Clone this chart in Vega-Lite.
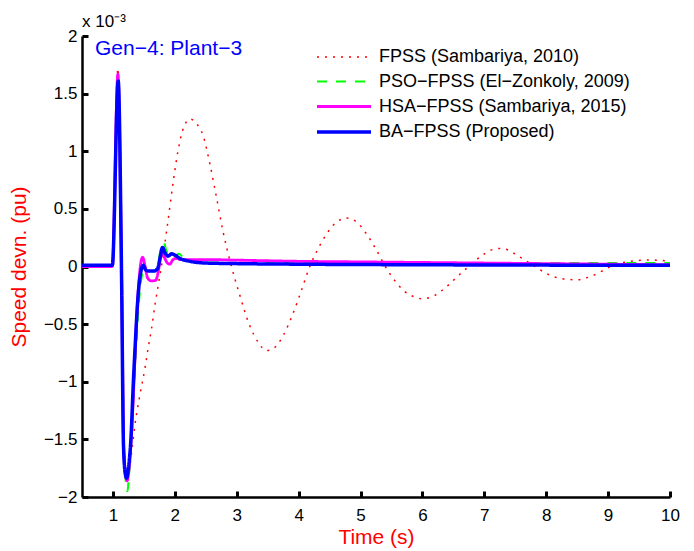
{
  "$schema": "https://vega.github.io/schema/vega-lite/v6.json",
  "width": 588,
  "height": 461,
  "autosize": "none",
  "padding": {"left": 82, "top": 36, "right": 24, "bottom": 54},
  "background": "white",
  "title": {"text": "x 10⁻³", "anchor": "start", "frame": "group", "fontSize": 17, "font": "Liberation Sans", "fontWeight": "normal", "color": "black", "offset": -4},
  "config": {
    "view": {"stroke": null},
    "font": "Liberation Sans",
    "axis": {"grid": false, "domainColor": "black", "domainWidth": 2.5, "labelFont": "Liberation Sans", "labelFontSize": 17, "labelColor": "black", "titleFont": "Liberation Sans", "titleFontSize": 21, "titleFontWeight": "normal", "titleColor": "#ff0000", "labelOverlap": false, "labelFlush": false},
    "legend": {"orient": "none", "legendX": 250, "legendY": 10, "padding": 0, "labelFont": "Liberation Sans", "labelFontSize": 18, "labelColor": "black", "labelLimit": 0, "rowPadding": 4, "symbolType": "M-2.7,0H2.7", "symbolSize": 400, "labelOffset": 23}
  },
  "resolve": {"axis": {"x": "independent", "y": "independent"}},
  "data": {"values": [
    {"series": "FPSS (Sambariya, 2010)", "t": 0.5, "v": 0},
    {"series": "FPSS (Sambariya, 2010)", "t": 0.99, "v": 0},
    {"series": "FPSS (Sambariya, 2010)", "t": 1.08, "v": 1.72},
    {"series": "FPSS (Sambariya, 2010)", "t": 1.14, "v": -0.1},
    {"series": "FPSS (Sambariya, 2010)", "t": 1.18, "v": -1.55},
    {"series": "FPSS (Sambariya, 2010)", "t": 1.22, "v": -1.8},
    {"series": "FPSS (Sambariya, 2010)", "t": 1.25, "v": -1.8},
    {"series": "FPSS (Sambariya, 2010)", "t": 1.3, "v": -1.62},
    {"series": "FPSS (Sambariya, 2010)", "t": 1.356, "v": -1.37},
    {"series": "FPSS (Sambariya, 2010)", "t": 1.437, "v": -1.11},
    {"series": "FPSS (Sambariya, 2010)", "t": 1.518, "v": -0.88},
    {"series": "FPSS (Sambariya, 2010)", "t": 1.571, "v": -0.7},
    {"series": "FPSS (Sambariya, 2010)", "t": 1.626, "v": -0.53},
    {"series": "FPSS (Sambariya, 2010)", "t": 1.68, "v": -0.33},
    {"series": "FPSS (Sambariya, 2010)", "t": 1.72, "v": -0.2},
    {"series": "FPSS (Sambariya, 2010)", "t": 1.8, "v": 0.06},
    {"series": "FPSS (Sambariya, 2010)", "t": 1.87, "v": 0.32},
    {"series": "FPSS (Sambariya, 2010)", "t": 1.97, "v": 0.72},
    {"series": "FPSS (Sambariya, 2010)", "t": 2.05, "v": 1.0},
    {"series": "FPSS (Sambariya, 2010)", "t": 2.12, "v": 1.17},
    {"series": "FPSS (Sambariya, 2010)", "t": 2.18, "v": 1.25},
    {"series": "FPSS (Sambariya, 2010)", "t": 2.245, "v": 1.28},
    {"series": "FPSS (Sambariya, 2010)", "t": 2.35, "v": 1.24},
    {"series": "FPSS (Sambariya, 2010)", "t": 2.46, "v": 1.13},
    {"series": "FPSS (Sambariya, 2010)", "t": 2.57, "v": 0.88},
    {"series": "FPSS (Sambariya, 2010)", "t": 2.68, "v": 0.58},
    {"series": "FPSS (Sambariya, 2010)", "t": 2.78, "v": 0.3},
    {"series": "FPSS (Sambariya, 2010)", "t": 2.9, "v": 0.03},
    {"series": "FPSS (Sambariya, 2010)", "t": 3.05, "v": -0.25},
    {"series": "FPSS (Sambariya, 2010)", "t": 3.2, "v": -0.5},
    {"series": "FPSS (Sambariya, 2010)", "t": 3.35, "v": -0.66},
    {"series": "FPSS (Sambariya, 2010)", "t": 3.48, "v": -0.73},
    {"series": "FPSS (Sambariya, 2010)", "t": 3.62, "v": -0.7},
    {"series": "FPSS (Sambariya, 2010)", "t": 3.75, "v": -0.6},
    {"series": "FPSS (Sambariya, 2010)", "t": 3.9, "v": -0.42},
    {"series": "FPSS (Sambariya, 2010)", "t": 4.05, "v": -0.2},
    {"series": "FPSS (Sambariya, 2010)", "t": 4.18, "v": 0.0},
    {"series": "FPSS (Sambariya, 2010)", "t": 4.3, "v": 0.14},
    {"series": "FPSS (Sambariya, 2010)", "t": 4.45, "v": 0.28},
    {"series": "FPSS (Sambariya, 2010)", "t": 4.6, "v": 0.38},
    {"series": "FPSS (Sambariya, 2010)", "t": 4.78, "v": 0.42},
    {"series": "FPSS (Sambariya, 2010)", "t": 4.95, "v": 0.38},
    {"series": "FPSS (Sambariya, 2010)", "t": 5.1, "v": 0.28},
    {"series": "FPSS (Sambariya, 2010)", "t": 5.25, "v": 0.15},
    {"series": "FPSS (Sambariya, 2010)", "t": 5.4, "v": 0.0},
    {"series": "FPSS (Sambariya, 2010)", "t": 5.55, "v": -0.12},
    {"series": "FPSS (Sambariya, 2010)", "t": 5.7, "v": -0.21},
    {"series": "FPSS (Sambariya, 2010)", "t": 5.85, "v": -0.26},
    {"series": "FPSS (Sambariya, 2010)", "t": 6.01, "v": -0.28},
    {"series": "FPSS (Sambariya, 2010)", "t": 6.2, "v": -0.25},
    {"series": "FPSS (Sambariya, 2010)", "t": 6.4, "v": -0.17},
    {"series": "FPSS (Sambariya, 2010)", "t": 6.6, "v": -0.07},
    {"series": "FPSS (Sambariya, 2010)", "t": 6.77, "v": 0.01},
    {"series": "FPSS (Sambariya, 2010)", "t": 6.95, "v": 0.09},
    {"series": "FPSS (Sambariya, 2010)", "t": 7.1, "v": 0.14},
    {"series": "FPSS (Sambariya, 2010)", "t": 7.25, "v": 0.157},
    {"series": "FPSS (Sambariya, 2010)", "t": 7.4, "v": 0.14},
    {"series": "FPSS (Sambariya, 2010)", "t": 7.55, "v": 0.09},
    {"series": "FPSS (Sambariya, 2010)", "t": 7.79, "v": 0.01},
    {"series": "FPSS (Sambariya, 2010)", "t": 8.0, "v": -0.06},
    {"series": "FPSS (Sambariya, 2010)", "t": 8.2, "v": -0.1},
    {"series": "FPSS (Sambariya, 2010)", "t": 8.5, "v": -0.115},
    {"series": "FPSS (Sambariya, 2010)", "t": 8.7, "v": -0.09},
    {"series": "FPSS (Sambariya, 2010)", "t": 8.9, "v": -0.04},
    {"series": "FPSS (Sambariya, 2010)", "t": 9.08, "v": 0.01},
    {"series": "FPSS (Sambariya, 2010)", "t": 9.3, "v": 0.04},
    {"series": "FPSS (Sambariya, 2010)", "t": 9.5, "v": 0.053},
    {"series": "FPSS (Sambariya, 2010)", "t": 9.68, "v": 0.057},
    {"series": "FPSS (Sambariya, 2010)", "t": 9.85, "v": 0.053},
    {"series": "FPSS (Sambariya, 2010)", "t": 10, "v": 0.045},

    {"series": "PSO−FPSS (El−Zonkoly, 2009)", "t": 0.5, "v": 0.01},
    {"series": "PSO−FPSS (El−Zonkoly, 2009)", "t": 0.99, "v": 0.01},
    {"series": "PSO−FPSS (El−Zonkoly, 2009)", "t": 1.085, "v": 1.62},
    {"series": "PSO−FPSS (El−Zonkoly, 2009)", "t": 1.14, "v": -0.1},
    {"series": "PSO−FPSS (El−Zonkoly, 2009)", "t": 1.18, "v": -1.6},
    {"series": "PSO−FPSS (El−Zonkoly, 2009)", "t": 1.21, "v": -1.88},
    {"series": "PSO−FPSS (El−Zonkoly, 2009)", "t": 1.235, "v": -1.95},
    {"series": "PSO−FPSS (El−Zonkoly, 2009)", "t": 1.26, "v": -1.8},
    {"series": "PSO−FPSS (El−Zonkoly, 2009)", "t": 1.3, "v": -1.5},
    {"series": "PSO−FPSS (El−Zonkoly, 2009)", "t": 1.34, "v": -1.05},
    {"series": "PSO−FPSS (El−Zonkoly, 2009)", "t": 1.38, "v": -0.65},
    {"series": "PSO−FPSS (El−Zonkoly, 2009)", "t": 1.42, "v": -0.3},
    {"series": "PSO−FPSS (El−Zonkoly, 2009)", "t": 1.46, "v": -0.1},
    {"series": "PSO−FPSS (El−Zonkoly, 2009)", "t": 1.5, "v": -0.03},
    {"series": "PSO−FPSS (El−Zonkoly, 2009)", "t": 1.56, "v": -0.04},
    {"series": "PSO−FPSS (El−Zonkoly, 2009)", "t": 1.66, "v": -0.04},
    {"series": "PSO−FPSS (El−Zonkoly, 2009)", "t": 1.72, "v": 0.0},
    {"series": "PSO−FPSS (El−Zonkoly, 2009)", "t": 1.77, "v": 0.14},
    {"series": "PSO−FPSS (El−Zonkoly, 2009)", "t": 1.82, "v": 0.21},
    {"series": "PSO−FPSS (El−Zonkoly, 2009)", "t": 1.86, "v": 0.14},
    {"series": "PSO−FPSS (El−Zonkoly, 2009)", "t": 1.92, "v": 0.08},
    {"series": "PSO−FPSS (El−Zonkoly, 2009)", "t": 2.0, "v": 0.09},
    {"series": "PSO−FPSS (El−Zonkoly, 2009)", "t": 2.07, "v": 0.11},
    {"series": "PSO−FPSS (El−Zonkoly, 2009)", "t": 2.14, "v": 0.07},
    {"series": "PSO−FPSS (El−Zonkoly, 2009)", "t": 2.3, "v": 0.04},
    {"series": "PSO−FPSS (El−Zonkoly, 2009)", "t": 3, "v": 0.03},
    {"series": "PSO−FPSS (El−Zonkoly, 2009)", "t": 5, "v": 0.03},
    {"series": "PSO−FPSS (El−Zonkoly, 2009)", "t": 7, "v": 0.03},
    {"series": "PSO−FPSS (El−Zonkoly, 2009)", "t": 10, "v": 0.03},

    {"series": "HSA−FPSS (Sambariya, 2015)", "t": 0.5, "v": 0.0},
    {"series": "HSA−FPSS (Sambariya, 2015)", "t": 0.99, "v": 0.0},
    {"series": "HSA−FPSS (Sambariya, 2015)", "t": 1.08, "v": 1.67},
    {"series": "HSA−FPSS (Sambariya, 2015)", "t": 1.14, "v": -0.1},
    {"series": "HSA−FPSS (Sambariya, 2015)", "t": 1.175, "v": -1.6},
    {"series": "HSA−FPSS (Sambariya, 2015)", "t": 1.21, "v": -1.83},
    {"series": "HSA−FPSS (Sambariya, 2015)", "t": 1.23, "v": -1.86},
    {"series": "HSA−FPSS (Sambariya, 2015)", "t": 1.26, "v": -1.75},
    {"series": "HSA−FPSS (Sambariya, 2015)", "t": 1.3, "v": -1.45},
    {"series": "HSA−FPSS (Sambariya, 2015)", "t": 1.34, "v": -1.0},
    {"series": "HSA−FPSS (Sambariya, 2015)", "t": 1.37, "v": -0.6},
    {"series": "HSA−FPSS (Sambariya, 2015)", "t": 1.41, "v": -0.2},
    {"series": "HSA−FPSS (Sambariya, 2015)", "t": 1.45, "v": 0.03},
    {"series": "HSA−FPSS (Sambariya, 2015)", "t": 1.48, "v": 0.08},
    {"series": "HSA−FPSS (Sambariya, 2015)", "t": 1.52, "v": 0.0},
    {"series": "HSA−FPSS (Sambariya, 2015)", "t": 1.56, "v": -0.1},
    {"series": "HSA−FPSS (Sambariya, 2015)", "t": 1.62, "v": -0.125},
    {"series": "HSA−FPSS (Sambariya, 2015)", "t": 1.69, "v": -0.12},
    {"series": "HSA−FPSS (Sambariya, 2015)", "t": 1.73, "v": -0.05},
    {"series": "HSA−FPSS (Sambariya, 2015)", "t": 1.77, "v": 0.08},
    {"series": "HSA−FPSS (Sambariya, 2015)", "t": 1.79, "v": 0.12},
    {"series": "HSA−FPSS (Sambariya, 2015)", "t": 1.83, "v": 0.08},
    {"series": "HSA−FPSS (Sambariya, 2015)", "t": 1.88, "v": 0.03},
    {"series": "HSA−FPSS (Sambariya, 2015)", "t": 1.92, "v": 0.02},
    {"series": "HSA−FPSS (Sambariya, 2015)", "t": 1.97, "v": 0.06},
    {"series": "HSA−FPSS (Sambariya, 2015)", "t": 2.02, "v": 0.07},
    {"series": "HSA−FPSS (Sambariya, 2015)", "t": 2.1, "v": 0.06},
    {"series": "HSA−FPSS (Sambariya, 2015)", "t": 2.5, "v": 0.06},
    {"series": "HSA−FPSS (Sambariya, 2015)", "t": 3, "v": 0.055},
    {"series": "HSA−FPSS (Sambariya, 2015)", "t": 4, "v": 0.045},
    {"series": "HSA−FPSS (Sambariya, 2015)", "t": 5, "v": 0.04},
    {"series": "HSA−FPSS (Sambariya, 2015)", "t": 6, "v": 0.035},
    {"series": "HSA−FPSS (Sambariya, 2015)", "t": 8, "v": 0.025},
    {"series": "HSA−FPSS (Sambariya, 2015)", "t": 10, "v": 0.015},

    {"series": "BA−FPSS (Proposed)", "t": 0.5, "v": 0.01},
    {"series": "BA−FPSS (Proposed)", "t": 0.99, "v": 0.01},
    {"series": "BA−FPSS (Proposed)", "t": 1.085, "v": 1.61},
    {"series": "BA−FPSS (Proposed)", "t": 1.14, "v": -0.12},
    {"series": "BA−FPSS (Proposed)", "t": 1.17, "v": -1.55},
    {"series": "BA−FPSS (Proposed)", "t": 1.2, "v": -1.8},
    {"series": "BA−FPSS (Proposed)", "t": 1.222, "v": -1.835},
    {"series": "BA−FPSS (Proposed)", "t": 1.25, "v": -1.75},
    {"series": "BA−FPSS (Proposed)", "t": 1.29, "v": -1.5},
    {"series": "BA−FPSS (Proposed)", "t": 1.33, "v": -1.0},
    {"series": "BA−FPSS (Proposed)", "t": 1.36, "v": -0.68},
    {"series": "BA−FPSS (Proposed)", "t": 1.4, "v": -0.3},
    {"series": "BA−FPSS (Proposed)", "t": 1.44, "v": -0.08},
    {"series": "BA−FPSS (Proposed)", "t": 1.49, "v": 0.01},
    {"series": "BA−FPSS (Proposed)", "t": 1.53, "v": -0.03},
    {"series": "BA−FPSS (Proposed)", "t": 1.58, "v": -0.04},
    {"series": "BA−FPSS (Proposed)", "t": 1.66, "v": -0.04},
    {"series": "BA−FPSS (Proposed)", "t": 1.72, "v": -0.02},
    {"series": "BA−FPSS (Proposed)", "t": 1.77, "v": 0.1},
    {"series": "BA−FPSS (Proposed)", "t": 1.8, "v": 0.165},
    {"series": "BA−FPSS (Proposed)", "t": 1.84, "v": 0.12},
    {"series": "BA−FPSS (Proposed)", "t": 1.89, "v": 0.09},
    {"series": "BA−FPSS (Proposed)", "t": 1.95, "v": 0.11},
    {"series": "BA−FPSS (Proposed)", "t": 2.0, "v": 0.1},
    {"series": "BA−FPSS (Proposed)", "t": 2.08, "v": 0.07},
    {"series": "BA−FPSS (Proposed)", "t": 2.2, "v": 0.05},
    {"series": "BA−FPSS (Proposed)", "t": 2.5, "v": 0.03},
    {"series": "BA−FPSS (Proposed)", "t": 3, "v": 0.025},
    {"series": "BA−FPSS (Proposed)", "t": 4, "v": 0.02},
    {"series": "BA−FPSS (Proposed)", "t": 6, "v": 0.015},
    {"series": "BA−FPSS (Proposed)", "t": 8, "v": 0.012},
    {"series": "BA−FPSS (Proposed)", "t": 10, "v": 0.01}
  ]},
  "layer": [
    {
      "transform": [{"filter": "datum.series === 'FPSS (Sambariya, 2010)'"}],
      "mark": {"type": "line", "interpolate": "monotone"},
      "encoding": {
        "x": {"field": "t", "type": "quantitative", "scale": {"domain": [0.5, 10], "nice": false, "zero": false}, "axis": null},
        "y": {"field": "v", "type": "quantitative", "scale": {"domain": [-2, 2], "nice": false}, "axis": null},
        "color": {"field": "series", "type": "nominal", "title": null, "scale": {"domain": ["FPSS (Sambariya, 2010)", "PSO−FPSS (El−Zonkoly, 2009)", "HSA−FPSS (Sambariya, 2015)", "BA−FPSS (Proposed)"], "range": ["#ff0000", "#00ff00", "#ff00ff", "#0000ff"]}},
        "strokeDash": {"field": "series", "type": "nominal", "title": null, "scale": {"domain": ["FPSS (Sambariya, 2010)", "PSO−FPSS (El−Zonkoly, 2009)", "HSA−FPSS (Sambariya, 2015)", "BA−FPSS (Proposed)"], "range": [[2, 6], [10, 9], [1, 0], [1, 0]]}},
        "strokeWidth": {"field": "series", "type": "nominal", "title": null, "scale": {"domain": ["FPSS (Sambariya, 2010)", "PSO−FPSS (El−Zonkoly, 2009)", "HSA−FPSS (Sambariya, 2015)", "BA−FPSS (Proposed)"], "range": [1.5, 3.5, 4.5, 3.5]}}
      }
    },
    {
      "transform": [{"filter": "datum.series === 'PSO−FPSS (El−Zonkoly, 2009)'"}],
      "mark": {"type": "line", "interpolate": "monotone"},
      "encoding": {
        "x": {"field": "t", "type": "quantitative", "axis": null},
        "y": {"field": "v", "type": "quantitative", "axis": null},
        "color": {"field": "series", "type": "nominal", "title": null},
        "strokeDash": {"field": "series", "type": "nominal", "title": null},
        "strokeWidth": {"field": "series", "type": "nominal", "title": null}
      }
    },
    {
      "transform": [{"filter": "datum.series === 'HSA−FPSS (Sambariya, 2015)'"}],
      "mark": {"type": "line", "interpolate": "monotone"},
      "encoding": {
        "x": {"field": "t", "type": "quantitative", "axis": null},
        "y": {"field": "v", "type": "quantitative", "axis": null},
        "color": {"field": "series", "type": "nominal", "title": null},
        "strokeDash": {"field": "series", "type": "nominal", "title": null},
        "strokeWidth": {"field": "series", "type": "nominal", "title": null}
      }
    },
    {
      "transform": [{"filter": "datum.series === 'BA−FPSS (Proposed)'"}],
      "mark": {"type": "line", "interpolate": "monotone"},
      "encoding": {
        "x": {"field": "t", "type": "quantitative", "axis": {"orient": "bottom", "title": "Time (s)", "values": [1,2,3,4,5,6,7,8,9,10], "ticks": true, "tickSize": -6, "tickColor": "black", "tickWidth": 3, "labelPadding": 16, "titlePadding": 3}},
        "y": {"field": "v", "type": "quantitative", "axis": {"orient": "left", "title": "Speed devn. (pu)", "values": [-2,-1.5,-1,-0.5,0,0.5,1,1.5,2], "ticks": true, "tickSize": -6, "tickColor": "black", "tickWidth": 3, "format": "~g", "labelPadding": 11, "titlePadding": 14}},
        "color": {"field": "series", "type": "nominal", "title": null},
        "strokeDash": {"field": "series", "type": "nominal", "title": null},
        "strokeWidth": {"field": "series", "type": "nominal", "title": null}
      }
    },
    {
      "data": {"values": [{}]},
      "mark": {"type": "text", "text": "Gen−4: Plant−3", "color": "#0000ff", "fontSize": 21, "align": "left", "baseline": "middle", "font": "Liberation Sans"},
      "encoding": {"x": {"datum": 0.71, "axis": null}, "y": {"datum": 1.89, "axis": null}}
    }
  ]
}
